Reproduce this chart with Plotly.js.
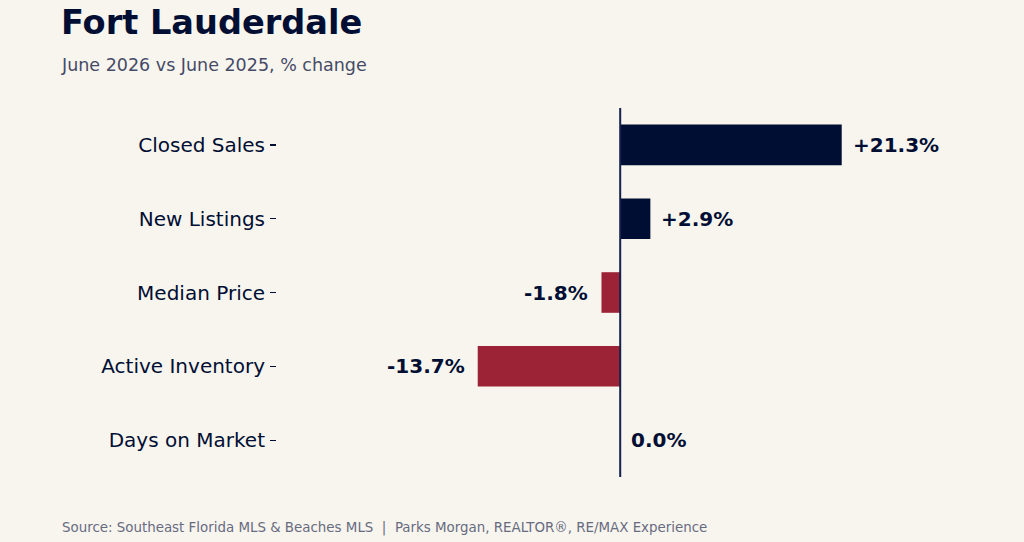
<!DOCTYPE html>
<html>
<head>
<meta charset="utf-8">
<script src="https://cdn.plot.ly/plotly-3.0.1.min.js"></script>
<style>
  html, body { margin: 0; padding: 0; background: #f8f5ef; }
  #chart { width: 1024px; height: 542px; }
</style>
</head>
<body>
<div id="chart"></div>
<script>
'use strict';

// chart data
const metrics = ['Closed Sales', 'New Listings', 'Median Price', 'Active Inventory', 'Days on Market'];
const pctChange = [21.3, 2.9, -1.8, -13.7, 0.0];

const navy = '#000e33';
const red = '#9b2335';
const font = 'DejaVu Sans, sans-serif';

function fmt(v) {
	const s = v.toFixed(1) + '%';
	return v > 0 ? '+' + s : s;
}

document.addEventListener('DOMContentLoaded', function(){

	const colors = pctChange.map(v => v < 0 ? red : navy);

	const trace = {
		type: 'bar',
		orientation: 'h',
		x: pctChange,
		y: metrics,
		width: 0.55,
		marker: { color: colors, line: { width: 0 } },
		hoverinfo: 'skip'
	};

	// value labels next to each bar end
	const labels = pctChange.map(function(v, i) {
		return {
			x: v,
			y: metrics[i],
			xref: 'x',
			yref: 'y',
			text: '<b>' + fmt(v) + '</b>',
			showarrow: false,
			xanchor: v < 0 ? 'right' : 'left',
			xshift: v < 0 ? -11 : 9,
			font: { family: font, size: 20, color: navy }
		};
	});

	const textNotes = [
		{
			text: '<b>Fort Lauderdale</b>',
			xref: 'paper', yref: 'paper', x: -218 / 689, y: 1 + (108 - 22) / 369,
			xanchor: 'left', yanchor: 'middle', showarrow: false,
			font: { family: font, size: 33.6, color: navy }
		},
		{
			text: 'June 2026 vs June 2025, % change',
			xref: 'paper', yref: 'paper', x: -218 / 689, y: 1 + (108 - 65) / 369,
			xanchor: 'left', yanchor: 'middle', showarrow: false,
			font: { family: font, size: 17.5, color: '#454b66' }
		},
		{
			text: 'Source: Southeast Florida MLS &amp; Beaches MLS  |  Parks Morgan, REALTOR®, RE/MAX Experience',
			xref: 'paper', yref: 'paper', x: -217 / 689, y: -(527.5 - 477) / 369,
			xanchor: 'left', yanchor: 'middle', showarrow: false,
			font: { family: font, size: 13.4, color: '#676b80' }
		}
	];

	const layout = {
		width: 1024,
		height: 542,
		paper_bgcolor: '#f8f5ef',
		plot_bgcolor: '#f8f5ef',
		margin: { l: 277, r: 58, t: 108, b: 65 },
		showlegend: false,
		bargap: 0.45,
		xaxis: {
			range: [-33, 33.25],
			showgrid: false,
			zeroline: false,
			showticklabels: false,
			ticks: '',
			showline: false,
			fixedrange: true
		},
		yaxis: {
			type: 'category',
			categoryorder: 'array',
			categoryarray: metrics,
			autorange: false,
			range: [4.5, -0.5],
			showgrid: false,
			zeroline: false,
			showline: false,
			ticks: 'outside',
			ticklen: 6,
			tickwidth: 1.2,
			tickcolor: navy,
			ticklabelstandoff: 1,
			tickfont: { family: font, size: 20, color: navy },
			fixedrange: true
		},
		shapes: [{
			type: 'line',
			xref: 'x', yref: 'paper',
			x0: 0, x1: 0, y0: 0, y1: 1,
			layer: 'above',
			line: { color: '#14204d', width: 2 }
		}],
		annotations: labels.concat(textNotes)
	};

	Plotly.newPlot('chart', [trace], layout, { displayModeBar: false, staticPlot: true });
});
</script>
</body>
</html>
